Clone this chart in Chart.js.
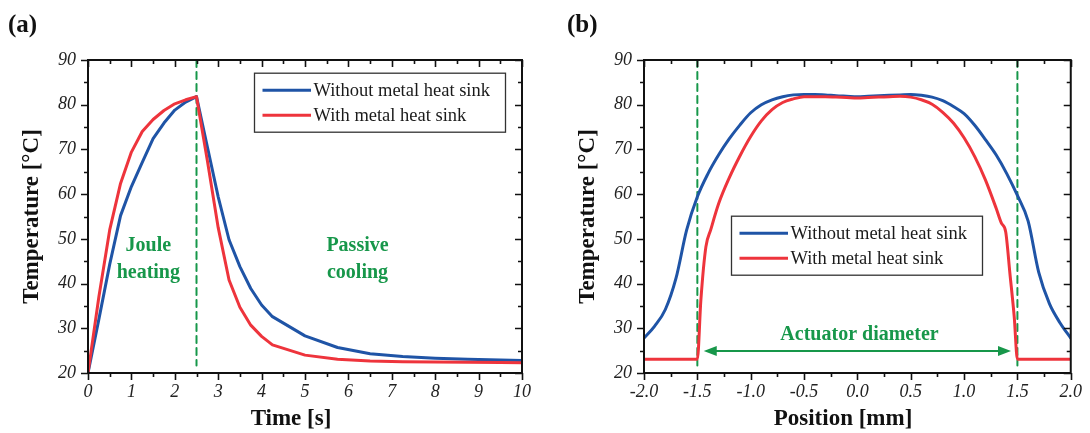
<!DOCTYPE html>
<html>
<head>
<meta charset="utf-8">
<title>Temperature response with and without metal heat sink</title>
<script src="https://cdn.jsdelivr.net/npm/chart.js@4.4.1/dist/chart.umd.min.js"></script>
<style>
  html, body { margin: 0; padding: 0; background: #fff; }
  #wrap { position: relative; width: 1090px; height: 433px; overflow: hidden; }
  .panel { position: absolute; top: 0; width: 545px; height: 433px; }
</style>
</head>
<body>
<div id="wrap">
  <div class="panel" style="left:0"><canvas id="chartA" width="545" height="433"></canvas></div>
  <div class="panel" style="left:545px"><canvas id="chartB" width="545" height="433"></canvas></div>
</div>
<script>
// ---- panel (a): temperature vs time ----
const timeS = [0, 0.25, 0.5, 0.75, 1, 1.25, 1.5, 1.75, 2, 2.25, 2.5, 2.75, 3, 3.25, 3.5, 3.75, 4, 4.25, 5, 5.75, 6.5, 7.25, 8, 8.75, 9.5, 10];
const tempWithoutSink = [20, 32, 44.3, 55.2, 61.7, 67.1, 72.4, 75.9, 78.8, 80.6, 81.8, 70.6, 59.4, 49.8, 43.8, 38.9, 35.2, 32.6, 28.3, 25.7, 24.3, 23.7, 23.3, 23.05, 22.9, 22.8];
const tempWithSink = [20, 37, 52, 62.4, 69.4, 74, 76.7, 78.7, 80.2, 81.1, 81.8, 67.5, 52.5, 40.8, 34.7, 30.7, 28.2, 26.3, 24, 23.1, 22.7, 22.5, 22.45, 22.4, 22.35, 22.3];
const heatingEnd = 2.5;

// ---- panel (b): temperature vs position ----
const posWithout = [-2, -1.9, -1.8, -1.7, -1.6, -1.5, -1.4, -1.3, -1.2, -1.1, -1, -0.9, -0.8, -0.7, -0.6, -0.5, -0.4, -0.3, -0.2, -0.1, 0,
  0.1, 0.2, 0.3, 0.4, 0.5, 0.6, 0.7, 0.8, 0.9, 1, 1.1, 1.2, 1.3, 1.4, 1.5, 1.6, 1.7, 1.8, 1.9, 2];
const profileWithoutSink = [27.8, 30.5, 34.2, 41.2, 52, 59.4, 64.6, 68.8, 72.4, 75.5, 78.2, 80, 81.1, 81.8, 82.2, 82.3, 82.3, 82.2, 82, 81.9, 81.8,
  81.9, 82, 82.1, 82.2, 82.3, 82.1, 81.7, 80.9, 79.6, 78, 75.4, 72.2, 68.8, 64.6, 59.7, 54, 42.5, 35.5, 31.2, 27.8];
const posWith = [-2, -1.5, -1.467, -1.42, -1.375, -1.3, -1.2, -1.1, -1, -0.9, -0.8, -0.7, -0.6, -0.5, -0.4, -0.3, -0.2, -0.1, 0,
  0.1, 0.2, 0.3, 0.4, 0.5, 0.6, 0.7, 0.8, 0.9, 1, 1.1, 1.2, 1.3, 1.35, 1.39, 1.43, 1.47, 1.5, 2];
const profileWithSink = [23.1, 23.1, 36.3, 48.2, 52, 57.9, 63.7, 68.6, 72.9, 76.4, 78.9, 80.5, 81.3, 81.8, 81.8, 81.8, 81.7, 81.6, 81.5,
  81.6, 81.7, 81.8, 81.9, 81.7, 81.1, 80.1, 78.3, 75.9, 72.6, 68.4, 63.2, 56.9, 53.5, 51.6, 42.2, 32.6, 23.1, 23.1];
const actuatorEdges = [-1.5, 1.5];
const arrowSpan = [-1.44, 1.44];
const arrowTemp = 24.9;

// ---- shared ----
const seriesLabels = ['Without metal heat sink', 'With metal heat sink'];
const tempRange = [20, 90];
const dashBottom = 21.7;

const BLUE = '#1f54a6';
const RED = '#ee343c';
const GREEN = '#17974a';
const SERIF = "'Liberation Serif', 'Times New Roman', serif";

const pts = (xs, ys) => xs.map((x, i) => ({ x: x, y: ys[i] }));

// box frame + minor/major ticks (out on left/bottom, in on top/right)
const frameTicks = {
  id: 'frameTicks',
  afterDraw(chart) {
    const { ctx, chartArea: a, scales } = chart;
    const ticksOf = (s) => {
      const major = s.ticks.map(t => t.value);
      const minor = [];
      for (let i = 0; i < major.length - 1; i++) minor.push((major[i] + major[i + 1]) / 2);
      return { major, minor };
    };
    ctx.save();
    ctx.strokeStyle = '#111';
    ctx.lineWidth = 2;
    ctx.strokeRect(a.left, a.top, a.right - a.left, a.bottom - a.top);
    ctx.lineWidth = 1.6;
    const xs = ticksOf(scales.x), ys = ticksOf(scales.y);
    ctx.beginPath();
    [[xs.major, 7], [xs.minor, 4]].forEach(([vals, len]) => vals.forEach(v => {
      const px = Math.round(scales.x.getPixelForValue(v)) + 0.5;
      ctx.moveTo(px, a.bottom); ctx.lineTo(px, a.bottom + len);
      ctx.moveTo(px, a.top); ctx.lineTo(px, a.top + len);
    }));
    [[ys.major, 7], [ys.minor, 4]].forEach(([vals, len]) => vals.forEach(v => {
      const py = Math.round(scales.y.getPixelForValue(v)) + 0.5;
      ctx.moveTo(a.left - len, py); ctx.lineTo(a.left, py);
      ctx.moveTo(a.right - len, py); ctx.lineTo(a.right, py);
    }));
    ctx.stroke();
    ctx.restore();
  }
};

// framed legend inside the plot
const boxLegend = {
  id: 'boxLegend',
  afterDatasetsDraw(chart, args, opts) {
    const { ctx, chartArea: a } = chart;
    const x0 = a.left + opts.x, y0 = a.top + opts.y;
    ctx.save();
    ctx.fillStyle = '#fff';
    ctx.fillRect(x0, y0, opts.width, opts.height);
    ctx.strokeStyle = '#333';
    ctx.lineWidth = 1.3;
    ctx.strokeRect(x0 + 0.5, y0 + 0.5, opts.width, opts.height);
    ctx.font = '18.5px ' + SERIF;
    ctx.textBaseline = 'middle';
    ctx.textAlign = 'left';
    const items = chart.data.datasets.filter(d => d.inLegend).sort((p, q) => p.legendRank - q.legendRank);
    items.forEach((d, i) => {
      const y = y0 + 17.5 + i * 25;
      ctx.strokeStyle = d.borderColor;
      ctx.lineWidth = 3;
      ctx.beginPath();
      ctx.moveTo(x0 + 8.5, y); ctx.lineTo(x0 + 57, y);
      ctx.stroke();
      ctx.fillStyle = '#1a1a1a';
      ctx.fillText(d.label, x0 + 59.5, y + 1);
    });
    ctx.restore();
  }
};

// panel letter, x-axis title, green notes and arrow
const notes = {
  id: 'notes',
  afterDraw(chart, args, opts) {
    const { ctx, scales } = chart;
    ctx.save();
    ctx.fillStyle = '#111';
    ctx.textBaseline = 'middle';
    ctx.textAlign = 'left';
    ctx.font = 'bold 25px ' + SERIF;
    ctx.fillText(opts.panel, opts.panelX, 26);
    ctx.textAlign = 'center';
    ctx.font = 'bold 23px ' + SERIF;
    ctx.fillText(opts.xTitle, opts.xTitleX, 419);
    ctx.fillStyle = GREEN;
    ctx.font = 'bold 20px ' + SERIF;
    (opts.texts || []).forEach(t => {
      ctx.fillText(t.text, scales.x.getPixelForValue(t.x), scales.y.getPixelForValue(t.y));
    });
    if (opts.arrow) {
      const y = scales.y.getPixelForValue(opts.arrow.y);
      const xl = scales.x.getPixelForValue(opts.arrow.from);
      const xr = scales.x.getPixelForValue(opts.arrow.to);
      const head = 13, half = 5;
      ctx.strokeStyle = GREEN;
      ctx.lineWidth = 2;
      ctx.beginPath();
      ctx.moveTo(xl + head - 1, y); ctx.lineTo(xr - head + 1, y);
      ctx.stroke();
      ctx.beginPath();
      ctx.moveTo(xl, y); ctx.lineTo(xl + head, y - half); ctx.lineTo(xl + head, y + half); ctx.closePath();
      ctx.moveTo(xr, y); ctx.lineTo(xr - head, y - half); ctx.lineTo(xr - head, y + half); ctx.closePath();
      ctx.fill();
    }
    ctx.restore();
  }
};

function dashed(xv) {
  return {
    data: pts([xv, xv], [tempRange[1], dashBottom]),
    borderColor: GREEN, borderWidth: 2, borderDash: [7, 5],
    pointRadius: 0, order: 3, inLegend: false
  };
}

function makeChart(id, c) {
  const tickFont = { family: SERIF, size: 18, style: 'italic' };
  return new Chart(document.getElementById(id), {
    type: 'line',
    data: { datasets: c.datasets },
    options: {
      responsive: false,
      animation: false,
      events: [],
      layout: { padding: { left: 0, right: c.padRight, top: 60, bottom: 0 } },
      elements: { point: { radius: 0 }, line: { tension: 0, borderCapStyle: 'round', borderJoinStyle: 'round' } },
      plugins: {
        legend: { display: false },
        tooltip: { enabled: false },
        boxLegend: c.legend,
        notes: c.notes
      },
      scales: {
        x: {
          type: 'linear', min: c.xMin, max: c.xMax,
          grid: { display: false, drawTicks: false }, border: { display: false },
          ticks: { stepSize: c.xStep, autoSkip: false, maxRotation: 0, padding: 8, color: '#222', font: tickFont, callback: c.xFmt },
          afterFit: s => { s.height = 60; }
        },
        y: {
          min: tempRange[0], max: tempRange[1],
          grid: { display: false, drawTicks: false }, border: { display: false },
          ticks: { stepSize: 10, padding: 12, color: '#222', font: tickFont },
          title: { display: true, text: 'Temperature [°C]', color: '#111', font: { family: SERIF, size: 23, weight: 'bold' }, padding: { top: c.yTitlePad, bottom: 0 } },
          afterFit: s => { s.width = c.yWidth; }
        }
      }
    },
    plugins: [frameTicks, boxLegend, notes]
  });
}

makeChart('chartA', {
  datasets: [
    { label: seriesLabels[1], data: pts(timeS, tempWithSink), borderColor: RED, borderWidth: 3, order: 1, inLegend: true, legendRank: 2 },
    { label: seriesLabels[0], data: pts(timeS, tempWithoutSink), borderColor: BLUE, borderWidth: 3, order: 2, inLegend: true, legendRank: 1 },
    dashed(heatingEnd)
  ],
  xMin: 0, xMax: 10, xStep: 1, xFmt: v => String(v),
  padRight: 23, yWidth: 88, yTitlePad: 18,
  legend: { x: 166, y: 12.7, width: 251, height: 59 },
  notes: {
    panel: '(a)', panelX: 8, xTitle: 'Time [s]', xTitleX: 291,
    texts: [
      { text: 'Joule', x: 1.39, y: 48.4 },
      { text: 'heating', x: 1.39, y: 42.3 },
      { text: 'Passive', x: 6.21, y: 48.4 },
      { text: 'cooling', x: 6.21, y: 42.5 }
    ]
  }
});

makeChart('chartB', {
  datasets: [
    { label: seriesLabels[1], data: pts(posWith, profileWithSink), borderColor: RED, borderWidth: 3, order: 1, inLegend: true, legendRank: 2, cubicInterpolationMode: 'monotone' },
    { label: seriesLabels[0], data: pts(posWithout, profileWithoutSink), borderColor: BLUE, borderWidth: 3, order: 2, inLegend: true, legendRank: 1, cubicInterpolationMode: 'monotone' },
    dashed(actuatorEdges[0]),
    dashed(actuatorEdges[1])
  ],
  xMin: -2, xMax: 2, xStep: 0.5, xFmt: v => Number(v).toFixed(1),
  padRight: 13, yWidth: 99, yTitlePad: 29,
  legend: { x: 87, y: 155.7, width: 251, height: 59 },
  notes: {
    panel: '(b)', panelX: 22, xTitle: 'Position [mm]', xTitleX: 298,
    texts: [{ text: 'Actuator diameter', x: 0.02, y: 28.6 }],
    arrow: { from: arrowSpan[0], to: arrowSpan[1], y: arrowTemp }
  }
});
</script>
</body>
</html>
